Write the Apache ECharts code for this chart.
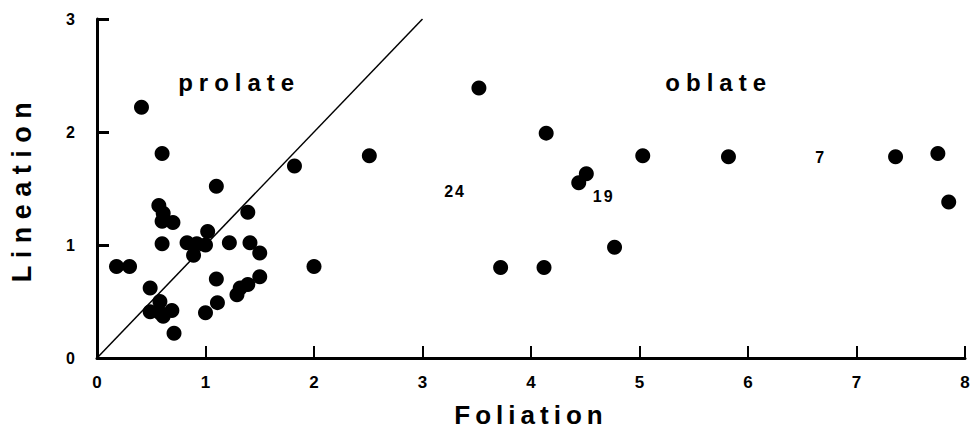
<!DOCTYPE html>
<html>
<head>
<meta charset="utf-8">
<script src="https://cdn.jsdelivr.net/npm/echarts@6/dist/echarts.min.js"></script>
<style>
  html, body { margin: 0; padding: 0; background: #fff; }
  #chart { width: 978px; height: 442px; }
</style>
</head>
<body>
<div id="chart"></div>
<script>
// ---- data ----
const foliation = [0.18, 0.30, 0.41, 0.60, 1.10, 1.82, 2.00, 2.51, 0.57, 0.61, 0.60, 0.70,
  1.39, 1.02, 0.60, 0.83, 0.92, 1.00, 0.89, 1.22, 1.41, 1.50, 0.49, 0.58, 0.49, 0.58,
  0.69, 0.61, 0.71, 1.10, 1.11, 1.00, 1.50, 1.39, 1.32, 1.29,
  3.52, 4.14, 5.03, 5.82, 4.51, 4.44, 4.77, 3.72, 4.12, 7.36, 7.75, 7.85];
const lineation = [0.81, 0.81, 2.22, 1.81, 1.52, 1.70, 0.81, 1.79, 1.35, 1.28, 1.21, 1.20,
  1.29, 1.12, 1.01, 1.02, 1.01, 1.00, 0.91, 1.02, 1.02, 0.93, 0.62, 0.50, 0.41, 0.40,
  0.42, 0.37, 0.22, 0.70, 0.49, 0.40, 0.72, 0.65, 0.62, 0.56,
  2.39, 1.99, 1.79, 1.78, 1.63, 1.55, 0.98, 0.80, 0.80, 1.78, 1.81, 1.38];
// reference line L = F
const lineF = [0, 3];
const lineL = [0, 3];
// sample number labels
const numText = ['24', '19', '7'];
const numF = [3.30, 4.67, 6.66];
const numL = [1.47, 1.43, 1.77];
// field labels
const fieldText = ['prolate', 'oblate'];
const fieldF = [1.31, 5.73];
const fieldL = [2.44, 2.44];
const xTicks = [0, 1, 2, 3, 4, 5, 6, 7, 8];
const yTicks = [0, 1, 2, 3];

const FONT = 'Liberation Sans';
const chart = echarts.init(document.getElementById('chart'), null, { renderer: 'svg' });

chart.setOption({
  animation: false,
  backgroundColor: '#fff',
  grid: { left: 95, right: 13, top: 19, bottom: 84 },
  xAxis: {
    type: 'value', min: xTicks[0], max: xTicks[xTicks.length - 1], interval: 1,
    name: 'Foliation', nameLocation: 'middle', nameGap: 44,
    nameTextStyle: { fontFamily: FONT, fontWeight: 'bold', fontSize: 26, color: '#000' },
    axisLine: { lineStyle: { color: '#000', width: 3 } },
    axisTick: { inside: true, length: 12, lineStyle: { color: '#000', width: 2 } },
    axisLabel: { margin: 16, fontFamily: FONT, fontWeight: 'bold', fontSize: 17, color: '#000' },
    splitLine: { show: false }
  },
  yAxis: {
    type: 'value', min: yTicks[0], max: yTicks[yTicks.length - 1], interval: 1,
    name: 'Lineation', nameLocation: 'middle', nameGap: 62, nameRotate: 90,
    nameTextStyle: { fontFamily: FONT, fontWeight: 'bold', fontSize: 27, color: '#000' },
    axisLine: { lineStyle: { color: '#000', width: 3 } },
    axisTick: { inside: true, length: 12, lineStyle: { color: '#000', width: 3 } },
    axisLabel: { margin: 22, fontFamily: FONT, fontWeight: 'bold', fontSize: 16, color: '#000' },
    splitLine: { show: false }
  },
  series: [
    {
      type: 'line', data: lineF.map((f, i) => [f, lineL[i]]),
      symbol: 'none', lineStyle: { color: '#000', width: 1.5 }, z: 1
    },
    {
      type: 'scatter', data: foliation.map((f, i) => [f, lineation[i]]),
      symbol: 'circle', symbolSize: 15, itemStyle: { color: '#000', opacity: 1 }, z: 2
    },
    {
      type: 'scatter', data: numF.map((f, i) => ({ value: [f, numL[i]], name: numText[i] })),
      symbolSize: 0, itemStyle: { opacity: 1 },
      label: { show: true, position: 'inside', formatter: p => p.name,
        fontFamily: FONT, fontWeight: 'bold', fontSize: 16, color: '#000' }
    },
    {
      type: 'scatter', data: fieldF.map((f, i) => ({ value: [f, fieldL[i]], name: fieldText[i] })),
      symbolSize: 0, itemStyle: { opacity: 1 },
      label: { show: true, position: 'inside', formatter: p => p.name,
        fontFamily: FONT, fontWeight: 'bold', fontSize: 24, color: '#000' }
    }
  ]
});

// letter spacing (style only)
const spacing = { 'prolate': 6, 'oblate': 6, 'Foliation': 5, 'Lineation': 7.5, '24': 2, '19': 2 };
function applySpacing() {
  document.querySelectorAll('#chart svg text').forEach(t => {
    const s = spacing[t.textContent];
    if (s) t.setAttribute('letter-spacing', s);
  });
}
chart.on('finished', applySpacing);
setTimeout(applySpacing, 0);
applySpacing();
</script>
</body>
</html>
